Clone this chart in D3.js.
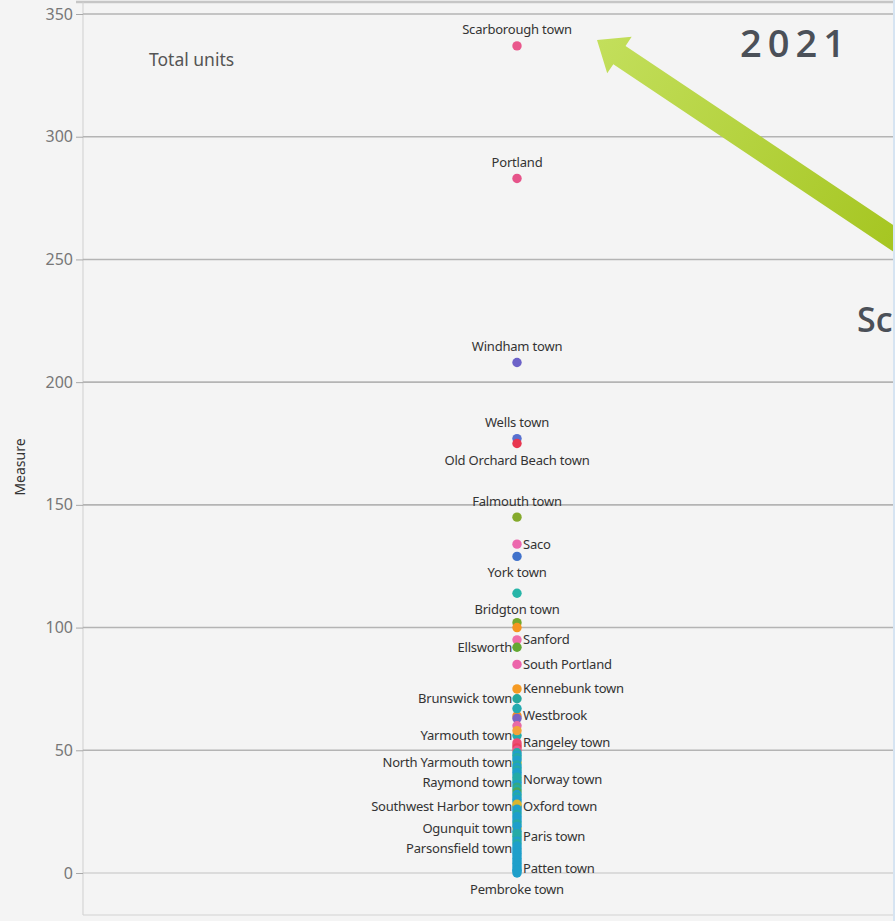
<!DOCTYPE html>
<html>
<head>
<meta charset="utf-8">
<script src="https://cdn.jsdelivr.net/npm/d3@7"></script>
<style>
  html, body { margin: 0; padding: 0; background: #f4f4f4; }
  svg { display: block; }
</style>
</head>
<body>
<div id="chart"></div>
<script>
// labelled towns and their total units
let towns = ["Scarborough town", "Portland", "Windham town", "Wells town", "Old Orchard Beach town",
	"Falmouth town", "Saco", "York town", "Bridgton town", "Sanford", "Ellsworth", "South Portland",
	"Kennebunk town", "Brunswick town", "Westbrook", "Yarmouth town", "Rangeley town",
	"North Yarmouth town", "Raymond town", "Norway town", "Southwest Harbor town", "Oxford town",
	"Ogunquit town", "Paris town", "Parsonsfield town", "Patten town", "Pembroke town"];
let units = [337, 283, 208, 177, 175, 145, 134, 129, 114, 95, 92, 85, 75, 71, 64, 56, 53,
	45, 37, 38, 27, 27, 18, 15, 10, 2, 0];

// the other (unlabelled) towns in the column
let otherUnits = [102, 100, 67, 63, 60, 58, 52, 51, 50,
	49, 48, 47, 46, 44, 43, 42, 41, 40, 39, 36, 35, 34, 33, 32, 31, 30, 29, 28, 26, 25,
	24, 23, 22, 21, 20, 19, 17, 16, 14, 13, 12, 11, 9, 8, 7, 6, 5, 4, 3, 1, 1];

let yTicks = [0, 50, 100, 150, 200, 250, 300, 350];
let measureName = "Total units";

// ---- styles ----
let townColor = {
	"Scarborough town": "#e9578c", "Portland": "#e6548a", "Windham town": "#6c62c8",
	"Wells town": "#5870cf", "Old Orchard Beach town": "#e8364f", "Falmouth town": "#85aa2c",
	"Saco": "#ec68ae", "York town": "#4172cb", "Bridgton town": "#27b5a8", "Sanford": "#ef6daa",
	"Ellsworth": "#64a833", "South Portland": "#ec64aa", "Kennebunk town": "#f59a23",
	"Brunswick town": "#25a89c", "Westbrook": "#f08b2c", "Yarmouth town": "#22acaa",
	"Rangeley town": "#ec4d78", "North Yarmouth town": "#d9b52e", "Raymond town": "#1e9fca",
	"Norway town": "#25aaa6", "Southwest Harbor town": "#d9b52e", "Oxford town": "#1e9fca",
	"Ogunquit town": "#d9b52e", "Paris town": "#25aaa6", "Parsonsfield town": "#1e9fca",
	"Patten town": "#1e9fca", "Pembroke town": "#1e9fca"
};
let C = "#1e9fca", T = "#25aaa6";
let otherColors = ["#73a82e", "#f5951f", "#23aab0", "#7a63c2", "#e86aa6", "#f2a33a", "#ec4d74", "#e8405c", "#e8588f",
	T, C, T, C, T, C, T, C, C, T, C, "#35a882", T, "#4aa65a", C, T, C, C, "#d9b52e", C, C,
	T, C, C, C, T, C, C, T, T, C, T, C, C, C, C, C, C, C, C, C, C];

let labelSide = {
	"Scarborough town": "top", "Portland": "top", "Windham town": "top", "Wells town": "top",
	"Old Orchard Beach town": "bottom", "Falmouth town": "top", "Saco": "right", "York town": "bottom",
	"Bridgton town": "bottom", "Sanford": "right", "Ellsworth": "left", "South Portland": "right",
	"Kennebunk town": "right", "Brunswick town": "left", "Westbrook": "right", "Yarmouth town": "left",
	"Rangeley town": "right", "North Yarmouth town": "left", "Raymond town": "left",
	"Norway town": "right", "Southwest Harbor town": "left", "Oxford town": "right",
	"Ogunquit town": "left", "Paris town": "right", "Parsonsfield town": "left",
	"Patten town": "right", "Pembroke town": "bottom"
};

let width = 895, height = 921;
let padding = {top: 14, right: 2, bottom: 48, left: 83};
let plotRight = width - padding.right;
let frameTop = 2, frameBottom = 915;
let dotR = 4.7;
let fontLabel = "'Noto Sans', 'Open Sans', sans-serif";

let svg = d3.select("#chart").append("svg")
	.attr("width", width)
	.attr("height", height);

svg.append("rect").attr("width", width).attr("height", height).attr("fill", "#f4f4f4");

let yScale = d3.scaleLinear()
	.domain([0, 350])
	.range([height - padding.bottom, padding.top]);

// single column, panel extends past the right edge of the picture
let xScale = d3.scaleBand()
	.domain([measureName])
	.range([padding.left, 951]);

let cx = xScale(measureName) + xScale.bandwidth() / 2;

// frame
svg.append("line")
	.attr("x1", 76).attr("x2", width)
	.attr("y1", frameTop).attr("y2", frameTop)
	.attr("stroke", "#c6c6c6").attr("stroke-width", 2.5);
svg.append("line")
	.attr("x1", padding.left).attr("x2", padding.left)
	.attr("y1", frameTop).attr("y2", frameBottom)
	.attr("stroke", "#cfcfcf").attr("stroke-width", 1);
svg.append("line")
	.attr("x1", padding.left).attr("x2", plotRight)
	.attr("y1", frameBottom).attr("y2", frameBottom)
	.attr("stroke", "#d2d2d2").attr("stroke-width", 1);

// y axis
let yAxis = d3.axisLeft(yScale)
	.tickValues(yTicks)
	.tickSize(7)
	.tickPadding(3);

let gy = svg.append("g")
	.attr("class", "y axis")
	.attr("transform", "translate(" + padding.left + ",0)")
	.call(yAxis);
gy.select(".domain").remove();
gy.selectAll(".tick line").attr("stroke", "#a8a8a8");
gy.selectAll(".tick text")
	.attr("fill", "#777")
	.style("font-family", fontLabel)
	.style("font-size", "16px");

// gridlines
svg.append("g").selectAll("line")
	.data(yTicks)
	.enter().append("line")
	.attr("x1", padding.left).attr("x2", plotRight)
	.attr("y1", d => yScale(d)).attr("y2", d => yScale(d))
	.attr("stroke", d => d === 0 ? "#c2c2c2" : "#b4b4b4")
	.attr("stroke-width", d => d === 0 ? 1 : 1.6);

// axis title
svg.append("text")
	.attr("transform", "translate(25," + 467 + ") rotate(-90)")
	.attr("text-anchor", "middle")
	.attr("fill", "#333")
	.style("font-family", fontLabel)
	.style("font-size", "14px")
	.text("Measure");

svg.append("text")
	.attr("x", 149).attr("y", 66)
	.attr("fill", "#555")
	.style("font-family", fontLabel)
	.style("font-size", "17.5px")
	.text(measureName);

// marks
let labelled = towns.map((t, i) => ({town: t, value: units[i]}));
let others = otherUnits.map((v, i) => ({value: v, color: otherColors[i]}));

let dots = svg.append("g");
dots.selectAll("circle.labelled")
	.data(labelled)
	.enter().append("circle")
	.attr("class", "labelled")
	.attr("cx", cx)
	.attr("cy", d => yScale(d.value))
	.attr("r", dotR)
	.attr("fill", d => townColor[d.town]);

dots.selectAll("circle.other")
	.data(others)
	.enter().append("circle")
	.attr("class", "other")
	.attr("cx", cx)
	.attr("cy", d => yScale(d.value))
	.attr("r", dotR)
	.attr("fill", d => d.color);

// labels
svg.append("g").selectAll("text")
	.data(labelled)
	.enter().append("text")
	.attr("x", d => {
		let s = labelSide[d.town];
		if (s === "right") return cx + 6;
		if (s === "left") return cx - 5;
		return cx;
	})
	.attr("y", d => {
		let s = labelSide[d.town];
		if (s === "top") return yScale(d.value) - 16;
		if (s === "bottom") return yScale(d.value) + 16.5;
		return yScale(d.value);
	})
	.attr("dy", "0.35em")
	.attr("text-anchor", d => {
		let s = labelSide[d.town];
		return s === "right" ? "start" : s === "left" ? "end" : "middle";
	})
	.attr("fill", "#333")
	.style("font-family", fontLabel)
	.style("font-size", "13px")
	.style("letter-spacing", "-0.2px")
	.text(d => d.town);

// arrow annotation pointing at the top town
let tip = [597, 40], tail = [960, 283];
let len = Math.hypot(tail[0] - tip[0], tail[1] - tip[1]);
let u = [(tail[0] - tip[0]) / len, (tail[1] - tip[1]) / len];
let n = [-u[1], u[0]];
let headLen = 27, headW = 22, shaftW = 11;
function pt(a, b) { return [tip[0] + u[0] * a + n[0] * b, tip[1] + u[1] * a + n[1] * b]; }
let arrowPts = [tip, pt(headLen, headW), pt(headLen, shaftW), pt(len, shaftW),
	pt(len, -shaftW), pt(headLen, -shaftW), pt(headLen, -headW)];

let grad = svg.append("defs").append("linearGradient")
	.attr("id", "arrowGrad")
	.attr("gradientUnits", "userSpaceOnUse")
	.attr("x1", tip[0]).attr("y1", tip[1])
	.attr("x2", 895).attr("y2", 240);
grad.append("stop").attr("offset", "0%").attr("stop-color", "#c3df5c");
grad.append("stop").attr("offset", "100%").attr("stop-color", "#a6c622");

svg.append("path")
	.attr("d", d3.line()(arrowPts) + "Z")
	.attr("fill", "url(#arrowGrad)");

// headline text
svg.append("text")
	.attr("x", 740).attr("y", 57)
	.attr("fill", "#4b5058")
	.style("font-family", "'Open Sans', sans-serif")
	.style("font-weight", 600)
	.style("font-size", "38px")
	.style("letter-spacing", "6px")
	.text("2021");

svg.append("text")
	.attr("x", 857).attr("y", 332)
	.attr("fill", "#4b5058")
	.style("font-family", "'Open Sans', sans-serif")
	.style("font-weight", 600)
	.style("font-size", "34px")
	.style("letter-spacing", "0px")
	.text("Sc");

// right edge strip
svg.append("rect")
	.attr("x", 893).attr("y", 0).attr("width", 2).attr("height", height)
	.attr("fill", "#d6e4f2");
</script>
</body>
</html>
